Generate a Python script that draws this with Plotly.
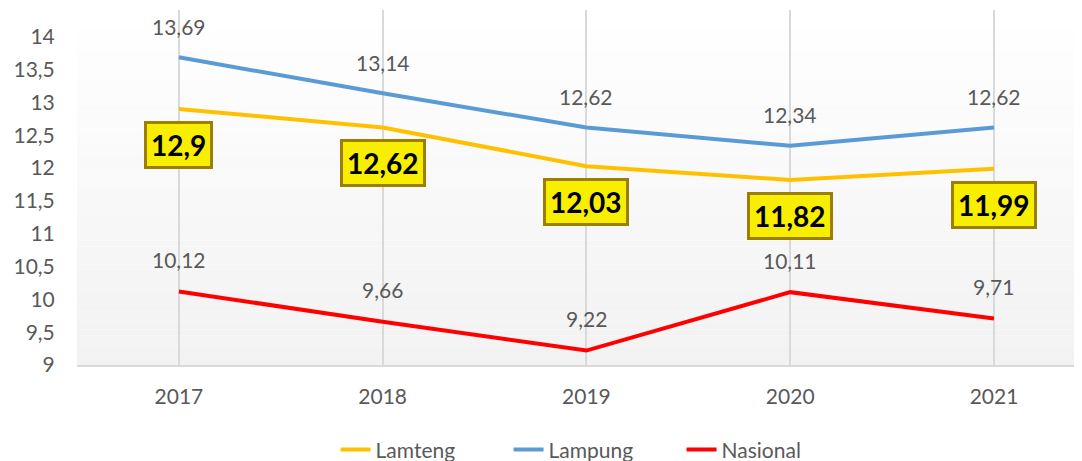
import plotly.graph_objects as go

years = ["2017", "2018", "2019", "2020", "2021"]
lamteng = [12.90, 12.62, 12.03, 11.82, 11.99]
lampung = [13.69, 13.14, 12.62, 12.34, 12.62]
nasional = [10.12, 9.66, 9.22, 10.11, 9.71]
y_ticks = [9, 9.5, 10, 10.5, 11, 11.5, 12, 12.5, 13, 13.5, 14]

def fmt(v):
    s = f"{v:.2f}".rstrip("0").rstrip(".")
    return s.replace(".", ",")

FONT = "Lato"
GREY = "#595959"
FS = 21

fig = go.Figure()
fig.add_trace(go.Scatter(x=years, y=lamteng, name="Lamteng", mode="lines",
                         line=dict(color="#FFC000", width=4)))
fig.add_trace(go.Scatter(x=years, y=lampung, name="Lampung", mode="lines",
                         line=dict(color="#5B9BD5", width=4)))
fig.add_trace(go.Scatter(x=years, y=nasional, name="Nasional", mode="lines",
                         line=dict(color="#FF0000", width=4)))

annotations = []
for i, v in enumerate(lampung):
    annotations.append(dict(x=i, y=v, xref="x", yref="y", text=fmt(v), showarrow=False, yshift=31,
                            font=dict(family=FONT, size=FS, color=GREY)))
for i, v in enumerate(nasional):
    annotations.append(dict(x=i, y=v, xref="x", yref="y", text=fmt(v), showarrow=False, yshift=32,
                            font=dict(family=FONT, size=FS, color=GREY)))
for i, v in enumerate(lamteng):
    annotations.append(dict(x=i, y=v, xref="x", yref="y", text="<b>" + fmt(v) + "</b>",
                            showarrow=False, yshift=-36, bgcolor="#F7EE00",
                            bordercolor="#9C7F00", borderwidth=3, borderpad=4,
                            font=dict(family=FONT, size=28, color="#000000")))

# vertical gradient background of the plot area (white top -> light grey bottom)
shapes = []
n = 60
for i in range(n):
    t = i / (n - 1)
    c = int(round(242 + (255 - 242) * t))
    shapes.append(dict(type="rect", xref="paper", yref="paper",
                       x0=0, x1=1, y0=i / n, y1=(i + 1) / n,
                       fillcolor=f"rgb({c},{c},{c})", line=dict(width=0),
                       layer="below"))

fig.update_layout(
    width=1074, height=453,
    margin=dict(l=69, r=1, t=2, b=96, autoexpand=False),
    paper_bgcolor="white", plot_bgcolor="rgba(0,0,0,0)",
    separators=", ",
    font=dict(family=FONT, size=FS, color=GREY),
    showlegend=True,
    legend=dict(orientation="h", x=0.516, xanchor="center", y=-0.239, yanchor="middle",
                entrywidth=128, font=dict(family=FONT, size=FS, color=GREY)),
    annotations=annotations,
    shapes=shapes,
    xaxis=dict(type="category", range=[-0.5, 4.427], showgrid=True, automargin=False,
               gridcolor="#D9D9D9", gridwidth=2, showline=True,
               linecolor="#D9D9D9", linewidth=2, ticks="outside", ticklen=12,
               tickcolor="rgba(0,0,0,0)",
               tickfont=dict(family=FONT, size=FS, color=GREY), fixedrange=True),
    yaxis=dict(range=[9, 14.41], tickvals=y_ticks,
               showgrid=False, zeroline=False, showline=False, automargin=False,
               ticks="outside", ticklen=17, tickcolor="rgba(0,0,0,0)",
               tickfont=dict(family=FONT, size=FS, color=GREY)),
)

fig.write_html("out.html")
